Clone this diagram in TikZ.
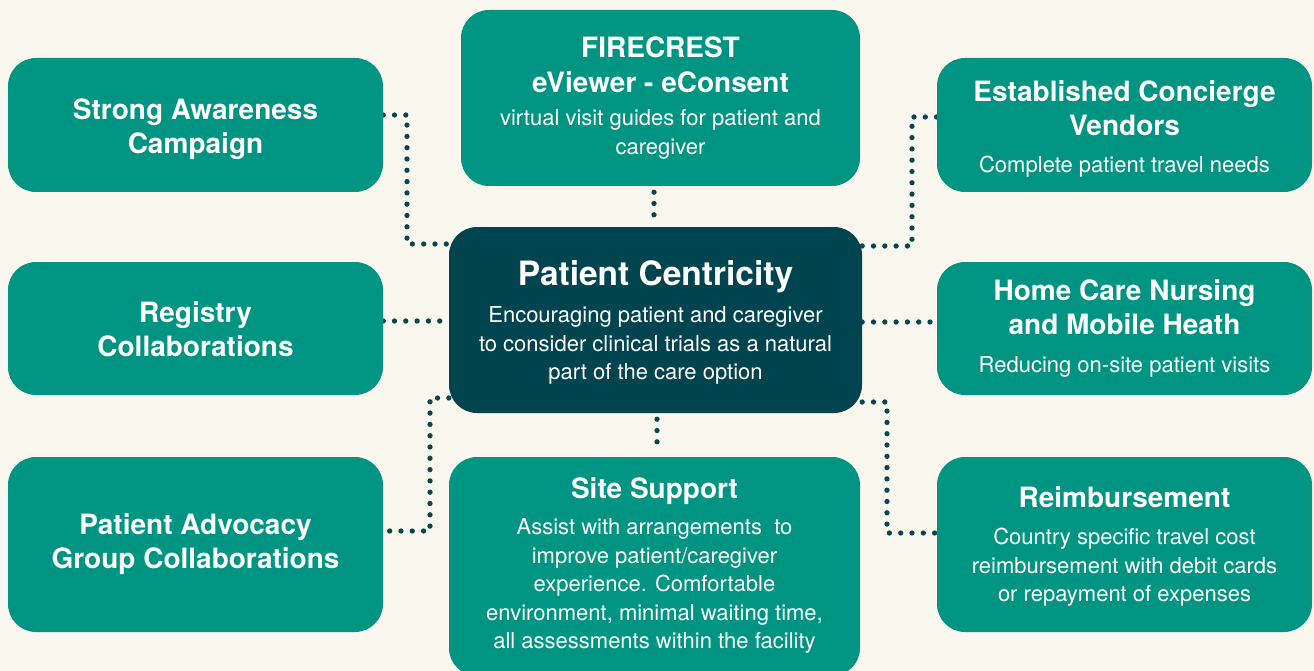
\documentclass[tikz,border=0pt]{standalone}
\usepackage{fontspec}
\setmainfont{TeX Gyre Heros}
\usetikzlibrary{backgrounds,calc}
\definecolor{bgcream}{HTML}{FAF7EE}
\definecolor{boxteal}{HTML}{009482}
\definecolor{hubdark}{HTML}{00444F}
\definecolor{dotc}{HTML}{08464E}
\newcommand\boxtitle[1]{{\fontsize{28}{34}\selectfont\bfseries #1}}
\begin{document}
\begin{tikzpicture}[x=1pt,y=-1pt,
  box/.style={rectangle, rounded corners=28pt, fill=boxteal, inner sep=0pt},
  hub/.style={box, fill=hubdark},
  txt/.style={text=white, align=center, inner sep=0pt, font=\fontsize{22}{28.5}\selectfont},
  dotline/.style={draw=dotc, line width=5.3pt, line cap=round, dash pattern=on 0pt off 11.3pt}]
\useasboundingbox (0,0) rectangle (1314,671);

\node[box, minimum width=375pt, minimum height=134pt] (L1) at (195.5,125) {};
\node[txt] (L1t) at ([yshift=-4pt]L1.center)
  {\boxtitle{Strong Awareness}\\[5.5pt]\boxtitle{Campaign}};
\node[box, minimum width=375pt, minimum height=133pt] (L2) at (195.5,328.5) {};
\node[txt] (L2t) at ([yshift=-1pt]L2.center)
  {\boxtitle{Registry}\\[5.5pt]\boxtitle{Collaborations}};
\node[box, minimum width=375pt, minimum height=175pt] (L3) at (195.5,544.5) {};
\node[txt] (L3t) at (L3.center)
  {\boxtitle{Patient Advocacy}\\[5.5pt]\boxtitle{Group Collaborations}};

\node[box, minimum width=375pt, minimum height=134pt] (R1) at (1124.5,125) {};
\node[txt] (R1t) at ([yshift=-4pt]R1.center)
  {\boxtitle{Established Concierge}\\[5.5pt]\boxtitle{Vendors}\\[9pt]Complete patient travel needs};
\node[box, minimum width=375pt, minimum height=133pt] (R2) at (1124.5,328.5) {};
\node[txt] (R2t) at (R2.center)
  {\boxtitle{Home Care Nursing}\\[5.5pt]\boxtitle{and Mobile Heath}\\[9pt]Reducing on-site patient visits};
\node[box, minimum width=375pt, minimum height=175pt] (R3) at (1124.5,544.5) {};
\node[txt] (R3t) at ([yshift=-2pt]R3.center)
  {\boxtitle{Reimbursement}\\[9pt]Country specific travel cost\\reimbursement with debit cards\\or repayment of expenses};

\node[box, minimum width=399pt, minimum height=176pt] (T) at (660.5,98) {};
\node[txt] (Tt) at (T.center)
  {\boxtitle{FIRECREST}\\[6.5pt]\boxtitle{eViewer - eConsent}\\[5pt]virtual visit guides for patient and\\caregiver};
\node[hub, minimum width=413pt, minimum height=186pt] (C) at (655.5,320) {};
\node[txt] (Ct) at ([yshift=-2.5pt]C.center)
  {{\fontsize{33.5}{40}\selectfont\bfseries Patient Centricity}\\[9pt]Encouraging patient and caregiver\\to consider clinical trials as a natural\\part of the care option};
\node[box, minimum width=411pt, minimum height=219pt] (B) at (654.5,566.5) {};
\node[txt] (Bt) at ([yshift=1pt]B.center)
  {\boxtitle{Site Support}\\[8pt]Assist with arrangements\ \ to\\improve patient/caregiver\\experience. Comfortable\\environment, minimal waiting time,\\all assessments within the facility};

\coordinate (a1) at (407,115);
\coordinate (a2) at (407,244);
\coordinate (b1) at (912,246);
\coordinate (b2) at (912,117);
\coordinate (c1) at (430,398);
\coordinate (c2) at (430,531);
\coordinate (d1) at (887,402);
\coordinate (d2) at (887,533);

\begin{pgfonlayer}{background}
\fill[bgcream] (0,0) rectangle (1314,671);
\draw[dotline] (L1.east |- a1) -- (a1) -- (a2) -- (C.west |- a2);
\draw[dotline] (C.east |- b1) -- (b1) -- (b2) -- (R1.west |- b2);
\draw[dotline] (L2.east |- 0,321) -- (C.west |- 0,321);
\draw[dotline] (C.east |- 0,322) -- (R2.west |- 0,322);
\draw[dotline] ([xshift=-6.5pt,yshift=-6pt]T.south) -- ([xshift=-1.5pt,yshift=9pt]C.north);
\draw[dotline] ([xshift=1.5pt,yshift=-6pt]C.south) -- ([xshift=2.5pt,yshift=9pt]B.north);
\draw[dotline] (C.west |- c1) -- (c1) -- (c2) -- (L3.east |- c2);
\draw[dotline] (C.east |- d1) -- (d1) -- (d2) -- (R3.west |- d2);
\end{pgfonlayer}
\end{tikzpicture}
\end{document}
